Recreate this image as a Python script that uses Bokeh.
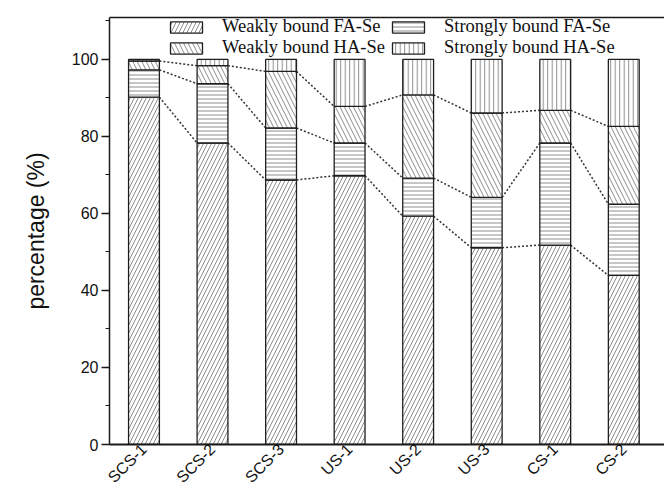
import numpy as np
from math import pi
from bokeh.plotting import figure
from bokeh.models import (Range1d, LinearAxis, FixedTicker, SingleIntervalTicker,
                          Legend, LegendItem)
from bokeh.embed import file_html
from bokeh.resources import INLINE

# ---- data (percent of total Se) ----
samples = ["SCS-1", "SCS-2", "SCS-3", "US-1", "US-2", "US-3", "CS-1", "CS-2"]
weak_fa = [90.2, 78.3, 68.7, 69.8, 59.3, 51.1, 51.8, 43.9]
strong_fa = [7.1, 15.4, 13.5, 8.5, 9.9, 13.1, 26.5, 18.5]
weak_ha = [2.3, 4.7, 14.7, 9.5, 21.6, 21.9, 8.5, 20.2]
strong_ha = [0.4, 1.6, 3.1, 12.2, 9.2, 13.9, 13.2, 17.4]
series_names = ["Weakly bound FA-Se", "Strongly bound FA-Se",
                "Weakly bound HA-Se", "Strongly bound HA-Se"]
y_label = "percentage (%)"

x = np.arange(len(samples))
bar_w = 0.45

p = figure(width=664, height=494, output_backend="svg", toolbar_location=None,
           x_range=Range1d(-0.503, 7.594), y_range=Range1d(0, 110.9),
           min_border_left=109, min_border_right=0, min_border_top=17,
           min_border_bottom=49, outline_line_color=None)
p.xgrid.visible = False
p.ygrid.visible = False
p.background_fill_color = "white"
p.border_fill_color = "white"

# x axis
xa = p.xaxis[0]
xa.ticker = FixedTicker(ticks=list(range(len(samples))))
xa.major_label_overrides = {i: s for i, s in enumerate(samples)}
xa.major_label_orientation = pi / 4
xa.major_tick_line_color = None
xa.minor_tick_line_color = None
xa.major_tick_out = 0
xa.major_tick_in = 0
xa.minor_tick_out = 0
xa.minor_tick_in = 0
xa.axis_line_width = 2
xa.axis_line_color = "#1a1a1a"
xa.major_label_standoff = 2
xa.major_label_text_font = "Liberation Sans"
xa.major_label_text_font_size = "16px"
xa.major_label_text_color = "#111111"

# y axis
ya = p.yaxis[0]
ya.ticker = SingleIntervalTicker(interval=20, num_minor_ticks=2)
ya.major_tick_out = 8
ya.major_tick_in = 0
ya.minor_tick_out = 4
ya.minor_tick_in = 0
ya.major_tick_line_width = 1.5
ya.minor_tick_line_width = 1.2
ya.axis_line_width = 1.5
ya.axis_line_color = "#1a1a1a"
ya.major_tick_line_color = "#1a1a1a"
ya.minor_tick_line_color = "#1a1a1a"
ya.major_label_standoff = 3
ya.major_label_text_font = "Liberation Sans"
ya.major_label_text_font_size = "16px"
ya.major_label_text_color = "#111111"
ya.axis_label = y_label
ya.axis_label_text_font = "Liberation Sans"
ya.axis_label_text_font_size = "23px"
ya.axis_label_text_font_style = "normal"
ya.axis_label_text_color = "#111111"
ya.axis_label_standoff = 20

# top border line
top_axis = LinearAxis(ticker=FixedTicker(ticks=[]), major_label_text_font_size="0px",
                      major_tick_line_color=None, minor_tick_line_color=None,
                      major_tick_out=0, minor_tick_out=0,
                      axis_line_width=1.5, axis_line_color="#1a1a1a",
                      major_label_standoff=0)
p.add_layout(top_axis, "above")

# stacked bars
c1 = np.array(weak_fa)
c2 = c1 + np.array(strong_fa)
c3 = c2 + np.array(weak_ha)
c4 = c3 + np.array(strong_ha)
bottoms = [np.zeros(len(samples)), c1, c2, c3]
tops = [c1, c2, c3, c4]
patterns = ["/", "-", "\\", "|"]
scales = [8, 4, 9, 4.5]

# dotted connectors between boundaries of neighbouring bars
for c in (c1, c2, c3):
    p.segment(x0=x[:-1] + bar_w / 2, y0=c[:-1], x1=x[1:] - bar_w / 2, y1=c[1:],
              line_dash="2 2", line_color="#333333", line_width=1.5)

renderers = []
for lo, hi, pat, sc in zip(bottoms, tops, patterns, scales):
    r = p.vbar(x=x, bottom=lo, top=hi, width=bar_w, fill_color="white",
               line_color="#1f1f1f", line_width=1.3, hatch_pattern=pat,
               hatch_color="#707070", hatch_scale=sc, hatch_weight=0.8)
    renderers.append(r)

def make_legend(idx, loc):
    leg = Legend(items=[LegendItem(label=series_names[i], renderers=[renderers[i]]) for i in idx],
                 location=loc, orientation="vertical", padding=0, margin=0, spacing=0,
                 glyph_width=40, glyph_height=14, label_height=20, label_standoff=16,
                 label_text_font="Liberation Serif", label_text_font_size="18.5px",
                 label_text_color="#111111",
                 border_line_color=None, background_fill_alpha=0)
    return leg

p.add_layout(make_legend([0, 2], (57, 386)))
p.add_layout(make_legend([1, 3], (279, 386)))

open("out.html", "w").write(file_html(p, INLINE))
